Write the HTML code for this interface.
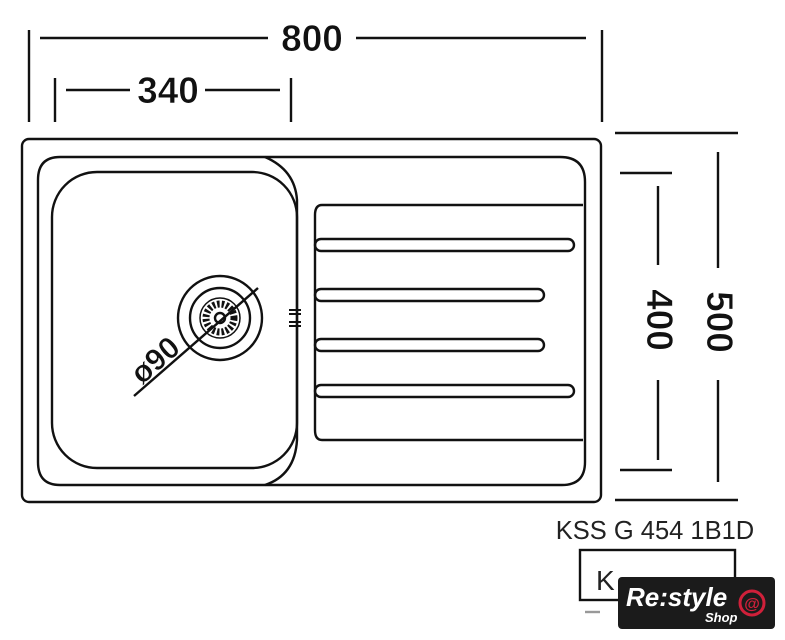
<!DOCTYPE html>
<html><head><style>body{margin:0;background:#fff}svg{display:block}</style></head><body>
<svg width="785" height="640" viewBox="0 0 785 640" xmlns="http://www.w3.org/2000/svg" font-family="Liberation Sans, sans-serif">
<g fill="none" stroke="#111" stroke-width="2.4">
<line x1="29" y1="30" x2="29" y2="122"/><line x1="602" y1="30" x2="602" y2="122"/>
<line x1="40" y1="38" x2="268" y2="38"/><line x1="356" y1="38" x2="586" y2="38"/>
<line x1="55" y1="78" x2="55" y2="122"/><line x1="291" y1="78" x2="291" y2="122"/>
<line x1="66" y1="90" x2="130" y2="90"/><line x1="205" y1="90" x2="280" y2="90"/>
<line x1="615" y1="133" x2="738" y2="133"/><line x1="615" y1="500" x2="738" y2="500"/>
<line x1="718" y1="152" x2="718" y2="268"/><line x1="718" y1="380" x2="718" y2="482"/>
<line x1="620" y1="173" x2="672" y2="173"/><line x1="620" y1="470" x2="672" y2="470"/>
<line x1="658" y1="186" x2="658" y2="265"/><line x1="658" y1="380" x2="658" y2="460"/>
<rect x="22" y="139" width="579" height="363" rx="7"/>
<path d="M60 157 H560 Q585 157 585 182 V462 Q585 485 562 485 H60 Q38 485 38 462 V180 Q38 157 60 157"/>
<path d="M265 157 Q295 170 297 200 V440 Q295 475 265 485"/>
<path d="M583 205 H322 Q315 205 315 215 V430 Q315 440 322 440 H583"/>
<rect x="52" y="172" width="245" height="296" rx="45"/>
<rect x="315" y="239" width="259" height="12" rx="6"/>
<rect x="315" y="289" width="229" height="12" rx="6"/>
<rect x="315" y="339" width="229" height="12" rx="6"/>
<rect x="315" y="385" width="259" height="12" rx="6"/>
<circle cx="220" cy="318" r="42"/><circle cx="220" cy="318" r="30"/><circle cx="220" cy="318" r="20" stroke-width="1.5"/>
<circle cx="220" cy="318" r="14" stroke-width="7" stroke-dasharray="2.5 2"/>
<circle cx="220" cy="318" r="5"/>
<line x1="134" y1="396" x2="258" y2="288"/>
<path d="M289 310h12M289 314h12M289 322h12M289 326h12" stroke-width="2"/>
<rect x="580" y="550" width="155" height="50"/>
<line x1="585" y1="612" x2="600" y2="612" stroke="#999"/>
</g>
<g fill="#111" font-size="37" text-anchor="middle" font-weight="bold" stroke="#fff" stroke-width="0.6">
<text x="312" y="51">800</text>
<text x="168" y="103">340</text>
<text transform="translate(707,322) rotate(90)">500</text>
<text transform="translate(647,320) rotate(90)">400</text>
<text transform="translate(162,368) rotate(-41)" font-size="31">ø90</text>
</g>
<text x="655" y="539" font-size="25.5" text-anchor="middle" fill="#222">KSS G 454 1B1D</text>
<text x="596" y="590" font-size="28" fill="#222">K</text>
<rect x="618" y="577" width="157" height="52" rx="4" fill="#1b1b1b"/>
<text x="626" y="606" font-size="26" font-style="italic" font-weight="bold" fill="#fff">Re:style</text>
<text x="705" y="622" font-size="13" font-style="italic" font-weight="bold" fill="#fff">Shop</text>
<circle cx="752" cy="603" r="12" fill="none" stroke="#d0203a" stroke-width="3"/>
<text x="752" y="609" font-size="16" text-anchor="middle" fill="#d0203a" font-weight="bold">@</text>
</svg>
</body></html>
